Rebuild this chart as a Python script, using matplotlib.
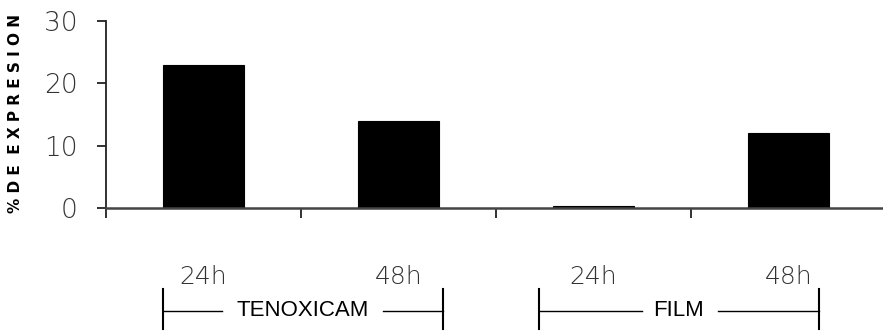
import matplotlib
matplotlib.use("Agg")
import matplotlib.pyplot as plt
from matplotlib.ticker import FixedLocator

# ---- data ----
time_labels = ["24h", "48h", "24h", "48h"]
expression = [23.0, 14.0, 0.4, 12.0]
groups = ["TENOXICAM", "FILM"]
y_ticks = [0, 10, 20, 30]

W, H = 883, 333
fig = plt.figure(figsize=(W / 100, H / 100), dpi=100)
ax = fig.add_axes([106 / W, (H - 208.3) / H, (W - 106) / W, (208.3 - 20.8) / H])

x = list(range(len(expression)))
ax.bar(x, expression, width=0.42, color="black", edgecolor="black", linewidth=0.8)

ax.set_xlim(-0.5, -0.5 + (W - 106) / 195)
ax.set_ylim(0, 30)

for s in ["top", "right"]:
    ax.spines[s].set_visible(False)
ax.spines["left"].set_color("#222222")
ax.spines["bottom"].set_color("#444444")
ax.spines["left"].set_linewidth(1.3)
ax.spines["bottom"].set_linewidth(1.8)

ax.set_yticks(y_ticks)
ax.set_yticklabels([str(v) for v in y_ticks])
ax.tick_params(axis="y", direction="out", length=6.5, width=1.3, color="#222222",
               pad=14, labelsize=19, labelcolor="#333333")

ax.set_xticks(x)
ax.set_xticklabels(time_labels)
ax.tick_params(axis="x", which="major", length=0, pad=41, labelsize=18, labelcolor="#333333")
ax.xaxis.set_minor_locator(FixedLocator([-0.5, 0.5, 1.5, 2.5]))
ax.tick_params(axis="x", which="minor", direction="out", length=7, width=1.3, color="#222222")

for lab in ax.get_yticklabels() + ax.get_xticklabels():
    lab.set_fontfamily("DejaVu Sans")
    lab.set_fontweight("light")

trans = ax.get_xaxis_transform()
def px_y(py):
    return (208.3 - py) / (208.3 - 20.8)

brackets = [(-0.208, 1.228), (1.72, 3.156)]
text_gaps = [(0.095, 0.92), (2.247, 2.638)]
for (x0, x1), name, (g0, g1) in zip(brackets, groups, text_gaps):
    yb = px_y(310.5)
    ax.plot([x0, x0], [px_y(289), px_y(329)], transform=trans, color="black", lw=1.5, clip_on=False)
    ax.plot([x1, x1], [px_y(289), px_y(329)], transform=trans, color="black", lw=1.5, clip_on=False)
    ax.plot([x0, g0], [yb, yb], transform=trans, color="black", lw=1.0, clip_on=False)
    ax.plot([g1, x1], [yb, yb], transform=trans, color="black", lw=1.0, clip_on=False)
    ax.text((x0 + x1) / 2, yb, name, transform=trans, ha="center", va="center",
            fontsize=16, family="Liberation Sans", color="black", clip_on=False)

fig.text(16 / W, (H - 114) / H, "% D E  E X P R E S I O N", rotation=90, ha="center", va="center",
         fontsize=11, fontweight="bold", family="DejaVu Sans", color="black")

fig.savefig("out.png", dpi=100)
